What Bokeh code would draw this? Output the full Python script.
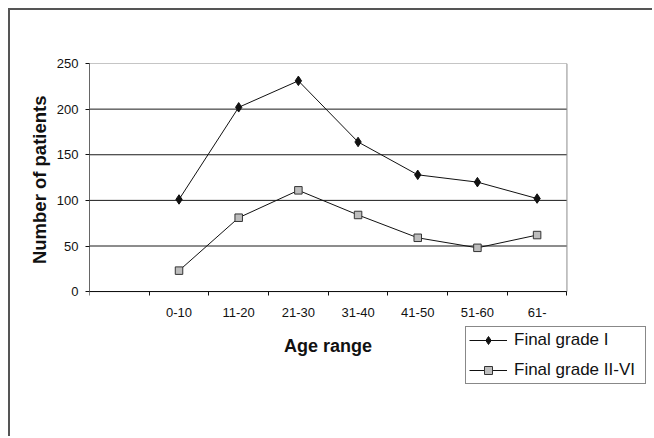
import numpy as np
from bokeh.plotting import figure
from bokeh.models import FixedTicker, Range1d, Legend, LegendItem, Title
from bokeh.embed import file_html
from bokeh.resources import INLINE

# ---- data ----
age_groups = ["0-10", "11-20", "21-30", "31-40", "41-50", "51-60", "61-"]
grade_i = [101, 202, 231, 164, 128, 120, 102]
grade_ii_vi = [23, 81, 111, 84, 59, 48, 62]
y_ticks = [0, 50, 100, 150, 200, 250]
series_names = ["Final grade I", "Final grade II-VI"]
x_title = "Age range"
y_title = "Number of patients"

FONT = "Liberation Sans"

# first category slot is left blank (as in the original chart)
n_slots = len(age_groups) + 1
xs = [i + 1.5 for i in range(len(age_groups))]
y_max = y_ticks[-1]

# the frame is extended to the right and below the plot area so that the
# legend (which sits below the x axis) is not clipped
p = figure(
    width=644, height=428,
    output_backend="svg", toolbar_location=None,
    x_range=Range1d(0, n_slots + 1.4), y_range=Range1d(-150, y_max),
    min_border_left=79, min_border_right=4,
    min_border_top=53, min_border_bottom=10,
    background_fill_color="white", border_fill_color="white",
)
p.styles = {"border-left": "2px solid #555555", "border-top": "2px solid #555555",
            "margin-left": "8px", "margin-top": "8px"}

p.outline_line_color = None
p.xgrid.grid_line_color = None
p.ygrid.grid_line_color = None

# horizontal gridlines and plot-area border
p.segment(x0=0, x1=n_slots, y0=y_ticks[1:-1], y1=y_ticks[1:-1],
          line_color="#1a1a1a", line_width=1)
p.quad(left=0, right=n_slots, bottom=0, top=y_max,
       fill_color=None, line_color="#8c8c8c", line_width=1)

# x axis: labels at slot centres, tick marks at slot boundaries (minor ticks)
label_ticks = [0.5] + xs
overrides = {0.5: " "}
for x, g in zip(xs, age_groups):
    overrides[x] = g
p.xaxis.fixed_location = 0
p.xaxis.bounds = (0, n_slots)
p.xaxis.ticker = FixedTicker(ticks=label_ticks, minor_ticks=list(range(n_slots + 1)))
p.xaxis.major_label_overrides = overrides
p.xaxis.major_tick_line_color = None
p.xaxis.major_tick_out = 4
p.xaxis.major_tick_in = 0
p.xaxis.minor_tick_line_color = "#111111"
p.xaxis.minor_tick_out = 4
p.xaxis.minor_tick_in = 0
p.xaxis.axis_line_color = "#111111"
p.xaxis.major_label_text_font = FONT
p.xaxis.major_label_text_font_size = "13px"
p.xaxis.major_label_text_color = "#111111"
p.xaxis.major_label_standoff = 9
p.xaxis.axis_label = x_title
p.xaxis.axis_label_text_font = FONT
p.xaxis.axis_label_text_font_size = "18px"
p.xaxis.axis_label_text_font_style = "bold"
p.xaxis.axis_label_text_color = "#111111"
p.xaxis.axis_label_standoff = 13

# y axis
p.yaxis.bounds = (0, y_max)
p.yaxis.ticker = FixedTicker(ticks=y_ticks)
p.yaxis.minor_tick_line_color = None
p.yaxis.major_tick_line_color = "#111111"
p.yaxis.major_tick_out = 4
p.yaxis.major_tick_in = 0
p.yaxis.axis_line_color = "#666666"
p.yaxis.major_label_text_font = FONT
p.yaxis.major_label_text_font_size = "13px"
p.yaxis.major_label_text_color = "#111111"
p.yaxis.major_label_standoff = 7

# y-axis title, centred on the plot area (not on the extended frame)
p.add_layout(Title(text=y_title, align="right", offset=32, standoff=7,
                   text_font=FONT, text_font_size="18.5px", text_font_style="bold",
                   text_color="#111111"), "left")

# series
l1 = p.line(xs, grade_i, line_color="#111111", line_width=1)
m1 = p.scatter(xs, grade_i, marker="diamond", size=9.5,
               fill_color="#111111", line_color="#111111", line_width=1)
l2 = p.line(xs, grade_ii_vi, line_color="#111111", line_width=1)
m2 = p.scatter(xs, grade_ii_vi, marker="square", size=7.5,
               fill_color="#bdbdbd", line_color="#333333", line_width=1)

legend = Legend(
    items=[LegendItem(label=series_names[0], renderers=[l1, m1]),
           LegendItem(label=series_names[1], renderers=[l2, m2])],
    location=(376, 44),
    border_line_color="#111111", border_line_width=1,
    background_fill_color="white", background_fill_alpha=1,
    label_text_font=FONT, label_text_font_size="17px", label_text_color="#111111",
    glyph_width=38, glyph_height=20, label_height=20, label_width=128,
    label_standoff=7, spacing=10, padding=3, margin=0,
)
p.add_layout(legend, "center")

open("out.html", "w").write(file_html(p, INLINE))
